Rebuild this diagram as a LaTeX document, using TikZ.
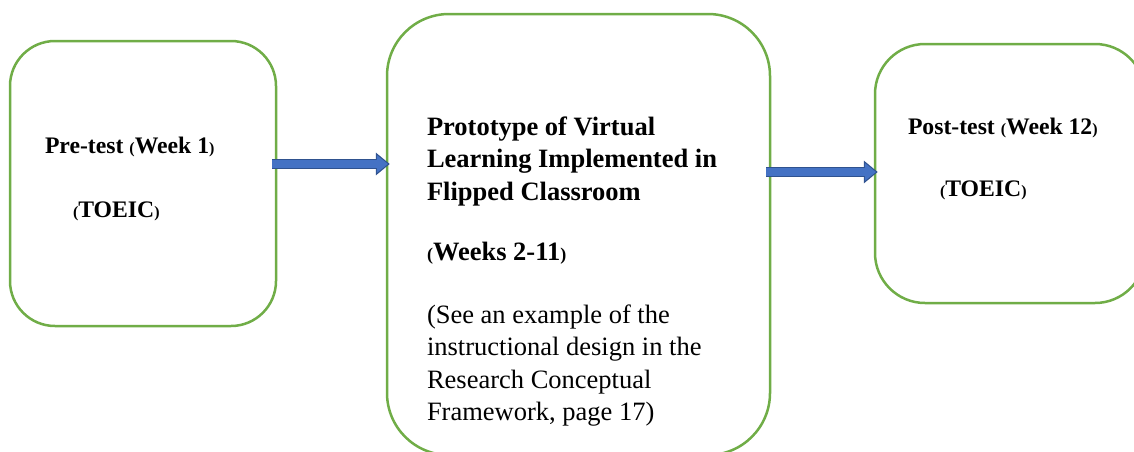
\documentclass[tikz,border=0pt]{standalone}
\usepackage{fontspec}
\setmainfont{Liberation Serif}
\usetikzlibrary{arrows.meta,calc}
\definecolor{boxgreen}{HTML}{70AD47}
\definecolor{arrowfill}{HTML}{4472C4}
\definecolor{arrowline}{HTML}{2F528F}
\newcommand{\sparen}[1]{{\fontsize{16}{16}\selectfont #1}}
\newcommand{\mparen}[1]{{\fontsize{18}{18}\selectfont #1}}
\tikzset{
        stage/.style={draw=boxgreen, line width=2.5pt, fill=white},
        txt/.style={anchor=base west, inner sep=0pt, outer sep=0pt},
        smallbold/.style={font=\fontsize{23.7}{23.7}\selectfont\bfseries},
        bigbold/.style={font=\fontsize{26.5}{32.5}\selectfont\bfseries},
        bigplain/.style={font=\fontsize{26.5}{32.5}\selectfont},
        flow/.style={draw=arrowline, line width=10.5pt, -{Triangle[length=14pt,width=22pt]},
          postaction={draw=arrowfill, line width=7.5pt, -{Triangle[length=11pt,width=17pt]}, shorten >=1.8pt}}
          }
\begin{document}
\begin{tikzpicture}[x=1pt, y=-1pt]
        \useasboundingbox (0,0) rectangle (1134,451);
        % the three stages
        \node[stage, minimum width=266pt, minimum height=285pt, rounded corners=45pt] (pre) at (143,183.5) {};
        \node[stage, minimum width=383pt, minimum height=441pt, rounded corners=62pt] (proto) at (578.5,234.5) {};
        \node[stage, minimum width=270pt, minimum height=259pt, rounded corners=50pt] (post) at (1010,173.5) {};
        % texts
        \node[txt, smallbold] (pretitle) at (45,153) {Pre-test \sparen{(}Week 1\sparen{)}};
        \node[txt, smallbold] (pretoeic) at (73,217) {\sparen{(}TOEIC\sparen{)}};
        \node[txt, bigbold] (prototitle) at (427,135) {\parbox[t]{330pt}{\raggedright Prototype of Virtual\\ Learning Implemented in\\ Flipped Classroom}};
        \node[txt, bigbold] (protoweeks) at (427,260) {\mparen{(}Weeks 2-11\mparen{)}};
        \node[txt, bigplain] (protonote) at (427,323) {\parbox[t]{330pt}{\raggedright (See an example of the\\ instructional design in the\\ Research Conceptual\\ Framework, page 17)}};
        \node[txt, smallbold] (posttitle) at (908,134) {Post-test \sparen{(}Week 12\sparen{)}};
        \node[txt, smallbold] (posttoeic) at (940,196) {\sparen{(}TOEIC\sparen{)}};
        % arrows
        \draw[flow] ($(pre.east |- 0,164)+(-5,0)$) -- ($(proto.west |- 0,164)+(4,0)$);
        \draw[flow] ($(proto.east |- 0,172)+(-5,0)$) -- ($(post.west |- 0,172)+(4,0)$);
\end{tikzpicture}
\end{document}
